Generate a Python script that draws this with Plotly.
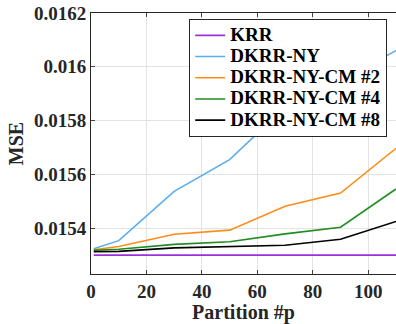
import plotly.graph_objects as go

partitions = [1, 10, 30, 50, 70, 90, 110]
krr = [0.01530, 0.01530, 0.01530, 0.01530, 0.01530, 0.01530, 0.01530]
dkrr_ny = [0.015324, 0.015354, 0.015537, 0.015655, 0.015850, 0.015950, 0.016060]
cm2 = [0.015320, 0.015332, 0.015378, 0.015393, 0.015482, 0.015531, 0.015697]
cm4 = [0.015318, 0.015322, 0.015340, 0.015350, 0.015379, 0.015404, 0.015546]
cm8 = [0.015313, 0.015314, 0.015327, 0.015332, 0.015337, 0.015359, 0.015425]

series_names = ["KRR", "DKRR-NY", "DKRR-NY-CM #2", "DKRR-NY-CM #4", "DKRR-NY-CM #8"]
series_values = [krr, dkrr_ny, cm2, cm4, cm8]
colors = ["#9B30D9", "#5AADEE", "#FF8C1A", "#1F8C1F", "#000000"]

y_ticks = [0.0154, 0.0156, 0.0158, 0.016, 0.0162]
y_tick_labels = ["0.0154", "0.0156", "0.0158", "0.016", "0.0162"]
x_ticks = [0, 20, 40, 60, 80, 100]

FF = "Liberation Serif"
TXT = "#262626"

fig = go.Figure()
for name, vals, col in zip(series_names, series_values, colors):
    fig.add_trace(go.Scatter(x=partitions, y=vals, mode="lines",
                             name='<span style="font-size:19px">' + name + '</span>',
                             line=dict(color=col, width=1.6)))

fig.update_layout(
    width=396, height=324,
    margin=dict(l=91, r=0, t=13, b=50),
    paper_bgcolor="white", plot_bgcolor="white",
    font=dict(family=FF, size=19, color=TXT, weight="bold"),
    showlegend=True,
    legend=dict(x=0.322, y=0.978, xanchor="left", yanchor="top",
                bgcolor="white", bordercolor=TXT, borderwidth=1,
                font=dict(family=FF, size=14, color="black", weight="bold"),
                tracegroupgap=0, itemwidth=30),
)
fig.update_xaxes(range=[0, 110], tickvals=x_ticks, ticks="inside", ticklen=4,
                 showgrid=True, gridcolor="#E3E3E3", gridwidth=1,
                 showline=True, linecolor=TXT, linewidth=1, mirror="ticks",
                 zeroline=False, automargin=False,
                 title=dict(text="Partition #p", font=dict(family=FF, size=20, color=TXT, weight="bold"), standoff=0),
                 tickfont=dict(family=FF, size=19, color=TXT, weight="bold"))
fig.update_yaxes(range=[0.01523, 0.0162], tickvals=y_ticks, ticktext=y_tick_labels,
                 ticks="inside", ticklen=4,
                 showgrid=True, gridcolor="#E3E3E3", gridwidth=1,
                 showline=True, linecolor=TXT, linewidth=1,
                 zeroline=False, automargin=False,
                 title=dict(text="MSE", font=dict(family=FF, size=20, color=TXT, weight="bold"), standoff=4),
                 tickfont=dict(family=FF, size=19, color=TXT, weight="bold"))

fig.write_html("out.html", config={"displayModeBar": False},
               post_script="document.body.style.margin='0';document.body.style.overflow='hidden';")
